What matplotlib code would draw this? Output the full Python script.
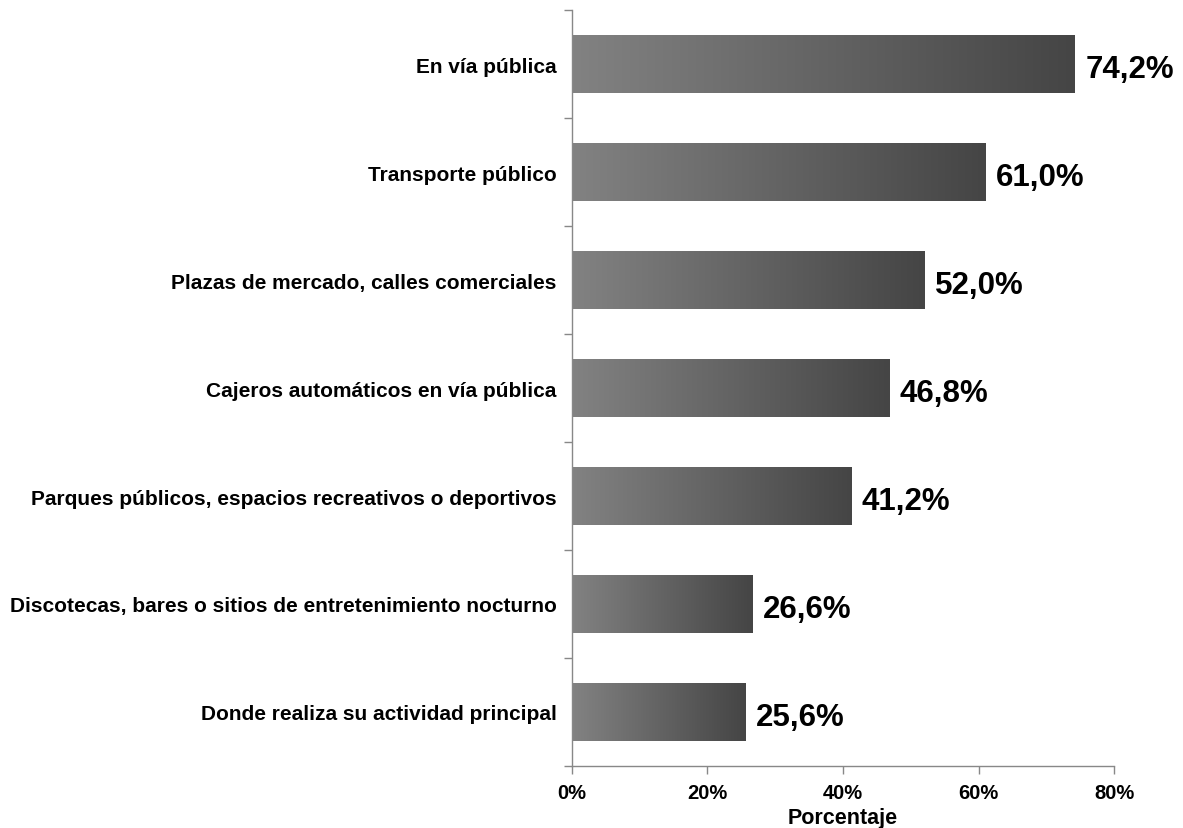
import numpy as np
import matplotlib
matplotlib.use("Agg")
import matplotlib.pyplot as plt
from matplotlib.colors import LinearSegmentedColormap

plt.rcParams['font.family'] = ['Liberation Sans', 'DejaVu Sans']
plt.rcParams['font.weight'] = 'bold'

categories = [
    "En vía pública",
    "Transporte público",
    "Plazas de mercado, calles comerciales",
    "Cajeros automáticos en vía pública",
    "Parques públicos, espacios recreativos o deportivos",
    "Discotecas, bares o sitios de entretenimiento nocturno",
    "Donde realiza su actividad principal",
]
values = [74.2, 61.0, 52.0, 46.8, 41.2, 26.6, 25.6]
value_labels = ["74,2%", "61,0%", "52,0%", "46,8%", "41,2%", "26,6%", "25,6%"]
xticks = [0, 20, 40, 60, 80]
xtick_labels = ["0%", "20%", "40%", "60%", "80%"]

fig = plt.figure(figsize=(11.83, 8.29), dpi=100)
ax = fig.add_axes([0.4835, 0.0748, 0.4582, 0.9119])

# each bar gets its own light-to-dark gradient
cmap = LinearSegmentedColormap.from_list('grad', ['#828282', '#454545'])
grad = np.linspace(0, 1, 256).reshape(1, -1)

ypos = np.arange(len(categories))[::-1]
bars = ax.barh(ypos, values, height=0.54, color='none', edgecolor='none')
for bar, lab in zip(bars, value_labels):
    x0, y0 = bar.get_x(), bar.get_y()
    w, h = bar.get_width(), bar.get_height()
    im = ax.imshow(grad, cmap=cmap, aspect='auto', extent=[x0, x0 + w, y0, y0 + h],
                   interpolation='bicubic', zorder=2)
    im.set_clip_path(bar)
    ax.text(x0 + w + 1.6, y0 + h / 2 - 0.05, lab, va='center', ha='left',
            fontsize=22.5, fontweight='bold', color='black')

ax.set_xlim(0, 80)
ax.set_ylim(-0.5, len(categories) - 0.5)
ax.set_xticks(xticks)
ax.set_xticklabels(xtick_labels, fontsize=14.5, fontweight='bold')
ax.set_yticks(ypos)
ax.set_yticklabels(categories, fontsize=15, fontweight='bold')
ax.set_yticks(np.arange(-0.5, len(categories), 1.0), minor=True)
ax.tick_params(axis='y', which='major', length=0, pad=11)
ax.tick_params(axis='y', which='minor', length=6, color='#888888', width=1)
ax.tick_params(axis='x', length=6, color='#888888', width=1, pad=6)
ax.set_xlabel("Porcentaje", fontsize=15.5, fontweight='bold', labelpad=4)

for s in ['top', 'right']:
    ax.spines[s].set_visible(False)
for s in ['left', 'bottom']:
    ax.spines[s].set_color('#888888')
    ax.spines[s].set_linewidth(1)

fig.savefig("out.png", dpi=100)
